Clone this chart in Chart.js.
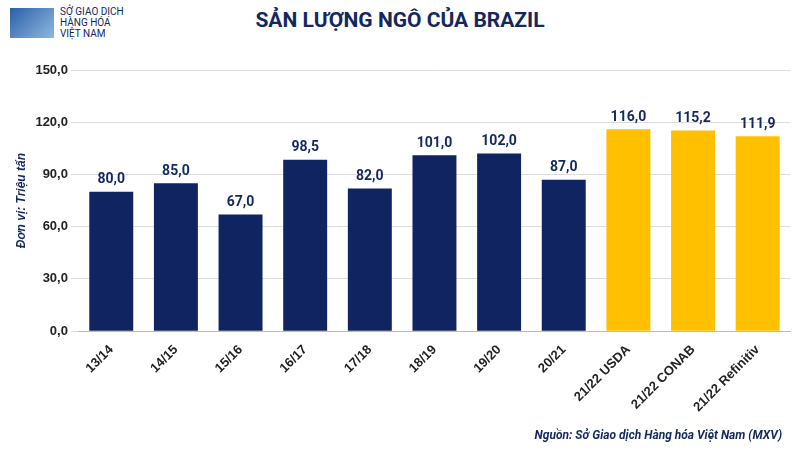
<!DOCTYPE html>
<html><head><meta charset="utf-8">
<script src="https://cdn.jsdelivr.net/npm/chart.js@4"></script>
<style>html,body{margin:0;padding:0;background:#fff;font-family:Roboto,sans-serif}
#w{position:relative;width:800px;height:450px}
#t{position:absolute;top:8px;left:0;width:800px;text-align:center;font:bold 21px Roboto;color:#13285e}
#s{position:absolute;right:18px;bottom:8px;font:italic bold 12px Roboto;color:#13285e}
#l{position:absolute;left:10px;top:6px;font:10px Roboto;color:#13285e;line-height:11px;padding-left:50px}
#l .b{position:absolute;left:0;top:2px;width:44px;height:30px;background:linear-gradient(135deg,#2b5fa8,#8fb8e0)}
canvas{position:absolute;left:0;top:0}</style></head>
<body><div id="w"><div id="l"><div class="b"></div>SỞ GIAO DỊCH<br>HÀNG HÓA<br>VIỆT NAM</div>
<div id="t">SẢN LƯỢNG NGÔ CỦA BRAZIL</div>
<canvas id="c" width="800" height="450"></canvas>
<div id="s">Nguồn: Sở Giao dịch Hàng hóa Việt Nam (MXV)</div></div>
<script>
const categories=["13/14","14/15","15/16","16/17","17/18","18/19","19/20","20/21","21/22 USDA","21/22 CONAB","21/22 Refinitiv"];
const values=[80.0,85.0,67.0,98.5,82.0,101.0,102.0,87.0,116.0,115.2,111.9];
const colors=values.map((v,i)=>i>=8?"#ffc000":"#0f2461");
const fmt=v=>v.toFixed(1).replace(".",",");
const labels={id:"lbl",afterDatasetsDraw(ch){const c=ch.ctx;const m=ch.getDatasetMeta(0);c.save();c.font="bold 14px Roboto";c.fillStyle="#13285e";c.textAlign="center";c.textBaseline="bottom";m.data.forEach((b,i)=>c.fillText(fmt(values[i]),b.x,b.y-5));c.restore();}};
new Chart(document.getElementById("c"),{type:"bar",data:{labels:categories,datasets:[{data:values,backgroundColor:colors,barPercentage:0.68,categoryPercentage:1}]},
options:{responsive:false,animation:false,layout:{padding:{top:70,right:10,left:10,bottom:32}},
plugins:{legend:{display:false},tooltip:{enabled:false}},
scales:{y:{min:0,max:150,ticks:{stepSize:30,callback:v=>fmt(v),font:{size:13,weight:"bold"},color:"#222"},grid:{color:"#ddd"},border:{display:false},
title:{display:true,text:"Đơn vị: Triệu tấn",font:{size:12,style:"italic",weight:"bold"},color:"#13285e"}},
x:{ticks:{maxRotation:45,minRotation:45,font:{size:13,weight:"bold"},color:"#222"},grid:{display:false},border:{color:"#bbb"}}}},plugins:[labels]});
</script></body></html>
